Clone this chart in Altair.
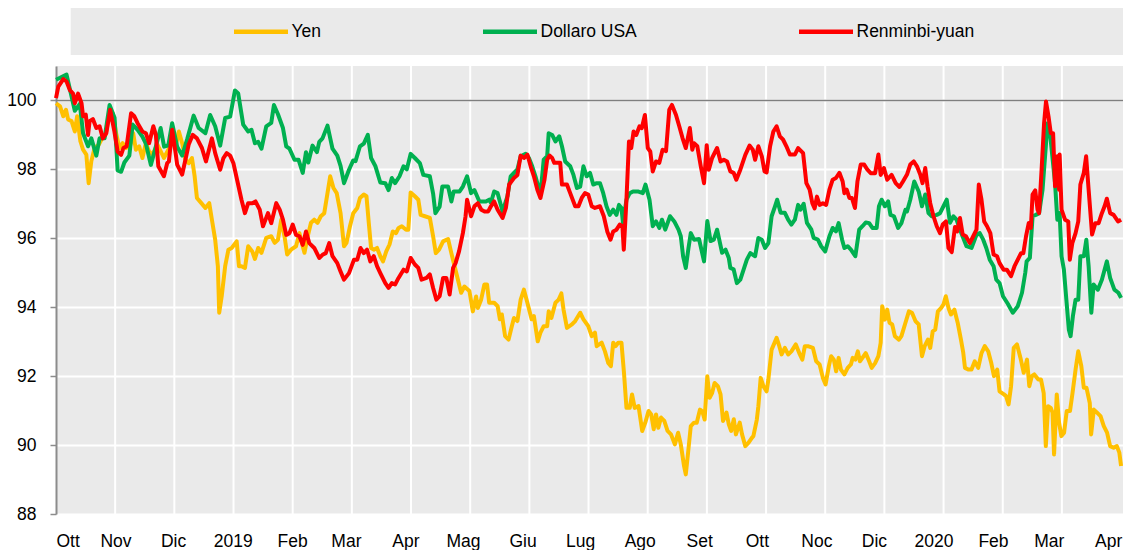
import json
import altair as alt
import pandas as pd

START = pd.Timestamp("2018-10-01")
SPAN_DAYS = 554.7  # visible range: 2018-10-01 .. 2020-04-08

series_names = ["Yen", "Dollaro USA", "Renminbi-yuan"]
series_colors = ["#FFC000", "#00B050", "#FF0000"]
tick_labels = ["Ott", "Nov", "Dic", "2019", "Feb", "Mar", "Apr", "Mag", "Giu", "Lug",
               "Ago", "Set", "Ott", "Noc", "Dic", "2020", "Feb", "Mar", "Apr"]
y_ticks = [88, 90, 92, 94, 96, 98, 100]

# (days since 2018-10-01, index value)
yen = [(0,99.92),(2.1,99.83),(3.8,99.54),(5.2,99.73),(6.3,99.45),(8.1,99.4),(9.8,99.1),(11.0,99.54),(12.7,98.82),(14.1,98.57),(15.8,98.43),(17.0,97.6),(18.4,98.24),(20.1,98.62),(22.3,98.72),(24.1,98.91),(25.8,99.0),(27.9,99.63),(29.6,99.63),(31.3,99.05),(33.0,98.62),(34.7,98.76),(36.5,98.62),(38.5,98.67),(40.2,99.05),(41.6,98.57),(43.3,98.67),(45.0,98.33),(46.8,98.76),(48.5,98.52),(50.2,98.43),(52.8,98.72),(54.5,98.53),(56.2,98.33),(58.5,98.57),(60.2,98.82),(62.3,98.67),(64.0,99.1),(65.7,98.76),(67.4,98.28),(69.1,98.18),(70.8,98.33),(72.2,97.8),(73.4,97.17),(75.7,97.02),(77.8,96.88),(79.8,97.02),(81.2,96.54),(82.9,95.96),(84.3,95.19),(85.0,93.84),(86.3,94.32),(88.1,95.19),(89.8,95.67),(91.5,95.72),(94.1,95.91),(95.3,95.19),(96.6,95.19),(98.4,95.14),(100.1,95.77),(102.2,95.62),(103.6,95.4),(105.3,95.72),(107.0,95.58),(109.5,96.01),(112.1,96.06),(113.9,95.87),(115.6,95.96),(117.3,96.54),(119.0,96.06),(120.4,95.53),(122.4,95.67),(125.0,95.77),(126.8,96.15),(128.5,95.77),(129.4,95.58),(131.1,96.06),(132.8,96.45),(134.5,96.54),(136.2,96.45),(137.9,96.64),(139.7,96.73),(141.4,97.31),(142.8,97.8),(144.5,97.46),(146.2,97.31),(148.2,96.73),(150.0,95.77),(151.3,95.87),(153.1,96.35),(154.8,96.73),(156.9,96.88),(158.3,97.17),(160.3,97.27),(161.7,97.22),(162.9,96.45),(164.1,95.72),(165.5,95.67),(167.2,95.72),(168.9,95.48),(170.3,95.33),(172.0,95.62),(173.7,95.82),(175.4,96.2),(177.1,96.15),(178.4,96.3),(180.1,96.35),(182.3,96.25),(183.5,96.25),(184.7,97.33),(186.9,97.22),(188.7,97.12),(189.9,96.68),(192.1,96.64),(194.7,96.59),(196.4,96.06),(197.8,95.57),(199.5,95.67),(201.6,95.91),(204.2,95.98),(205.9,95.57),(207.6,95.19),(211.0,94.42),(212.7,94.6),(215.3,94.47),(217.1,93.88),(218.8,94.31),(219.7,93.98),(221.4,94.22),(223.1,94.66),(224.5,94.66),(225.6,94.13),(228.2,94.13),(230.0,94.03),(231.2,93.65),(232.2,93.79),(233.9,93.16),(235.7,93.06),(237.4,93.45),(238.5,93.69),(240.3,93.6),(242.0,94.22),(243.7,94.51),(245.5,94.13),(247.7,93.65),(248.9,93.74),(250.9,93.01),(252.3,93.26),(254.0,93.45),(255.8,93.45),(256.6,93.88),(258.0,93.69),(260.1,94.13),(261.8,94.22),(263.2,94.4),(264.3,93.94),(266.1,93.4),(268.7,93.5),(270.4,93.6),(273.0,93.84),(274.7,93.65),(277.2,93.45),(279.0,93.16),(280.7,93.26),(281.6,92.87),(284.2,92.97),(285.9,92.72),(287.6,92.38),(289.0,92.29),(290.2,92.97),(291.4,92.87),(292.8,92.97),(294.5,92.97),(295.8,92.1),(297.1,91.08),(298.8,91.08),(300.0,91.47),(301.4,91.08),(303.4,91.13),(305.3,90.41),(306.9,90.65),(308.6,90.99),(310.0,90.89),(311.3,90.46),(312.5,90.89),(313.7,90.5),(315.1,90.8),(316.8,90.7),(318.5,90.41),(320.3,90.31),(322.3,90.02),(324.0,90.36),(325.4,90.02),(327.1,89.39),(328.0,89.15),(329.2,89.78),(330.6,90.55),(332.3,90.65),(333.7,90.65),(335.4,91.03),(336.6,90.98),(337.8,90.74),(339.2,92.0),(340.4,91.37),(341.7,91.51),(343.0,91.8),(344.7,91.71),(346.1,91.47),(347.4,90.7),(349.2,90.94),(350.4,90.6),(351.6,90.41),(353.0,90.75),(354.1,90.31),(356.1,90.65),(357.3,90.31),(359.0,89.97),(360.7,90.07),(362.4,90.21),(363.2,90.26),(365.0,90.74),(365.8,91.13),(367.0,91.95),(368.4,91.71),(370.1,91.56),(371.0,91.9),(372.7,92.77),(375.3,93.11),(376.7,92.87),(377.9,92.63),(379.6,92.82),(381.3,92.63),(383.0,92.72),(385.3,92.92),(387.4,92.63),(388.7,92.48),(390.0,92.87),(391.6,92.87),(394.2,92.82),(395.9,92.43),(397.7,92.34),(399.4,91.95),(400.8,91.76),(402.5,92.29),(403.7,92.58),(405.1,92.48),(406.3,92.14),(407.6,92.53),(408.8,92.19),(410.6,92.05),(412.3,92.24),(414.0,92.34),(414.9,92.53),(416.3,92.48),(417.6,92.72),(418.7,92.43),(420.0,92.53),(421.7,92.67),(423.5,92.43),(424.8,92.24),(426.6,92.38),(428.3,92.58),(429.5,92.97),(430.3,94.03),(431.7,93.64),(432.9,93.93),(434.1,93.55),(435.5,93.5),(436.9,93.16),(439.0,93.06),(440.3,93.16),(442.4,93.55),(444.2,93.88),(445.8,93.84),(447.6,93.6),(449.3,93.5),(451.0,92.58),(452.4,92.87),(454.1,93.06),(455.3,92.82),(456.6,93.3),(457.9,93.35),(459.3,93.88),(461.0,93.98),(462.2,94.08),(463.4,94.32),(464.8,93.98),(466.1,93.79),(467.9,93.93),(469.6,93.55),(471.3,93.06),(472.5,92.68),(473.4,92.24),(475.1,92.19),(476.8,92.19),(478.5,92.43),(480.3,92.24),(482.0,92.67),(483.7,92.87),(485.5,92.72),(487.1,92.38),(488.5,92.0),(490.2,92.19),(491.4,91.56),(493.7,91.47),(494.8,91.42),(496.1,91.18),(497.4,91.71),(498.8,92.82),(500.5,92.92),(502.3,92.53),(504.0,92.1),(505.7,92.48),(506.9,91.71),(508.2,92.0),(509.5,92.05),(511.6,91.9),(513.0,91.9),(514.4,91.51),(515.5,89.97),(516.7,91.13),(518.1,91.08),(519.0,90.94),(519.8,89.73),(521.2,91.47),(522.4,90.65),(523.6,90.26),(525.0,90.36),(526.4,90.99),(528.1,90.99),(529.3,91.47),(531.0,92.19),(532.4,92.72),(534.0,92.29),(535.3,91.66),(536.7,91.66),(538.4,91.22),(539.1,90.31),(540.5,91.03),(542.2,90.94),(544.0,90.84),(545.7,90.55),(547.4,90.36),(549.0,89.97),(550.8,89.92),(552.5,89.97),(553.8,89.78),(554.7,89.39)]

usd = [(0,100.6),(5.5,100.75),(9.8,99.7),(12.4,99.9),(14.1,99.05),(16.7,98.67),(18.4,98.9),(21.0,98.4),(22.7,98.9),(25.3,98.9),(27.9,99.87),(30.5,99.5),(32.1,97.97),(33.9,97.93),(35.6,98.2),(38.2,98.4),(39.9,99.3),(42.5,99.15),(45.0,98.95),(46.8,98.75),(49.4,98.13),(52.0,98.66),(54.5,99.2),(56.3,98.66),(58.5,98.7),(60.5,99.34),(63.1,98.66),(65.7,98.4),(68.3,98.87),(71.7,99.56),(74.3,99.2),(77.8,99.05),(80.3,99.58),(82.9,99.25),(85.5,98.69),(88.1,99.49),(90.7,99.53),(93.2,100.29),(94.9,100.2),(97.5,99.3),(100.1,99.1),(101.8,99.15),(103.6,98.76),(105.3,98.8),(107.0,98.6),(109.5,99.25),(112.1,99.35),(113.5,99.87),(115.6,99.6),(118.2,99.2),(119.9,98.67),(121.6,98.6),(124.2,98.28),(126.3,98.28),(128.5,97.9),(130.2,98.5),(131.4,98.2),(133.6,98.69),(135.9,98.5),(137.1,98.8),(138.8,98.9),(141.4,99.27),(144.0,98.6),(146.5,98.4),(148.2,98.1),(150.0,97.6),(152.6,97.99),(154.8,98.26),(156.0,98.24),(158.3,98.67),(160.3,98.75),(162.4,99.0),(164.1,98.33),(166.3,98.1),(168.9,97.62),(171.5,97.6),(173.2,97.4),(174.9,97.75),(176.6,97.6),(178.9,97.8),(181.0,98.09),(182.7,98.0),(184.7,98.45),(186.9,98.33),(189.5,98.18),(191.3,97.84),(194.7,97.8),(196.4,97.3),(197.6,96.73),(199.8,96.92),(201.2,97.5),(204.2,97.5),(205.9,97.07),(207.1,97.36),(210.2,97.36),(211.9,97.5),(214.1,97.8),(216.2,97.31),(217.9,97.4),(220.5,97.07),(223.9,97.07),(225.6,97.12),(226.5,97.03),(228.2,97.36),(230.0,97.31),(232.6,96.78),(235.1,97.22),(236.8,97.8),(238.5,97.9),(240.3,98.0),(242.0,98.38),(244.6,98.45),(246.3,98.33),(248.0,98.09),(249.7,97.8),(252.3,97.27),(254.0,98.28),(255.8,98.38),(256.6,99.05),(258.4,99.0),(260.1,98.81),(262.1,98.96),(263.5,98.67),(265.2,98.23),(267.8,98.09),(269.5,97.84),(271.3,97.46),(273.0,97.5),(274.7,98.09),(276.4,97.8),(278.1,97.9),(279.8,97.56),(281.6,97.6),(283.3,97.6),(285.0,97.31),(286.7,96.93),(288.4,96.68),(290.2,96.83),(291.9,96.68),(293.2,96.97),(294.5,96.88),(295.3,96.44),(297.1,97.12),(298.8,97.31),(300.5,97.36),(303.0,97.36),(305.6,97.31),(307.0,97.56),(309.1,97.12),(310.8,96.35),(312.5,96.49),(314.2,96.3),(315.6,96.54),(317.3,96.25),(319.8,96.64),(322.0,96.49),(324.2,96.25),(325.4,96.06),(326.6,95.48),(328.0,95.14),(329.4,95.72),(330.6,96.15),(332.3,95.96),(334.9,95.98),(337.5,95.33),(339.2,96.5),(340.9,95.92),(342.6,95.96),(344.3,96.25),(346.9,95.58),(348.7,95.67),(350.4,95.43),(351.2,95.14),(352.9,95.1),(354.6,94.7),(356.4,94.8),(358.1,95.09),(359.8,95.38),(361.6,95.57),(364.1,95.48),(365.8,96.01),(367.6,95.96),(369.3,95.72),(371.0,95.86),(372.7,96.64),(374.5,96.93),(375.6,97.12),(377.4,96.74),(379.6,96.74),(381.3,96.54),(383.0,96.4),(384.8,96.54),(386.5,96.97),(387.7,96.83),(389.4,97.0),(391.1,96.45),(393.4,96.25),(394.6,96.01),(396.8,95.96),(398.5,95.77),(400.6,95.62),(402.8,96.06),(404.5,96.3),(406.2,96.2),(407.6,96.44),(409.4,95.96),(410.6,95.72),(412.3,95.77),(414.0,95.67),(416.3,95.48),(418.3,96.25),(420.0,96.35),(421.7,96.46),(423.5,96.44),(425.2,96.3),(427.4,96.3),(428.6,96.93),(430.0,97.12),(431.7,96.93),(433.4,97.07),(434.6,96.68),(436.4,96.64),(438.6,96.3),(440.3,96.44),(442.4,96.83),(443.2,96.78),(444.9,97.12),(447.0,97.65),(449.3,97.36),(451.0,96.93),(452.7,97.27),(454.4,96.73),(456.1,96.64),(458.7,96.68),(460.4,96.73),(462.2,96.93),(463.9,97.12),(465.6,96.45),(467.4,96.64),(469.0,96.54),(470.8,96.25),(472.5,96.01),(474.2,95.77),(476.8,95.72),(479.4,96.1),(481.1,96.15),(482.9,95.96),(484.5,95.72),(486.3,95.38),(488.3,95.19),(489.7,94.8),(491.4,94.7),(493.2,94.32),(495.7,94.1),(498.3,93.84),(500.9,94.03),(503.1,94.42),(504.8,95.0),(505.5,95.33),(507.2,95.43),(508.6,96.64),(510.3,96.68),(512.0,96.73),(513.8,97.41),(515.5,98.67),(516.4,99.34),(517.5,99.15),(518.9,98.38),(520.3,97.6),(521.5,96.54),(522.7,96.73),(523.7,95.48),(524.9,95.1),(526.2,94.22),(527.5,93.35),(528.4,93.16),(529.6,93.74),(531.0,94.22),(532.4,94.22),(533.5,95.48),(535.3,95.48),(536.6,95.96),(537.8,95.19),(539.2,93.84),(540.4,94.66),(542.6,94.51),(544.7,94.8),(547.3,95.33),(549.0,94.85),(551.2,94.51),(553.3,94.42),(554.7,94.27)]

rmb = [(0,100.07),(1.2,100.4),(3.8,100.62),(5.5,100.55),(7.2,100.3),(8.9,100.2),(9.8,99.92),(11.5,100.2),(13.3,99.92),(14.1,99.54),(15.5,99.59),(16.7,99.0),(17.5,99.4),(19.2,99.46),(21.0,99.2),(22.7,99.25),(24.4,98.9),(26.2,99.05),(28.2,99.73),(30.4,99.1),(32.1,98.52),(33.9,98.42),(35.1,98.62),(36.8,98.67),(39.1,99.63),(40.8,99.54),(42.5,99.34),(45.0,99.1),(46.8,99.05),(48.5,98.76),(50.7,99.25),(52.0,99.0),(53.3,98.09),(56.2,97.8),(57.9,98.18),(58.8,98.23),(60.5,99.15),(62.3,98.47),(63.1,98.14),(65.7,97.85),(67.4,98.28),(69.1,98.72),(71.2,99.0),(73.4,98.9),(76.0,98.62),(78.1,98.23),(81.2,98.9),(82.9,98.47),(85.5,97.99),(87.2,98.33),(88.9,98.47),(90.7,98.4),(92.4,98.18),(94.1,97.75),(96.6,97.12),(98.4,96.73),(100.1,97.02),(102.2,97.02),(103.9,97.07),(106.1,96.83),(107.8,96.35),(110.4,96.73),(112.1,96.44),(114.7,97.02),(116.5,96.83),(118.2,96.54),(119.9,96.1),(121.6,96.15),(123.3,96.4),(125.0,96.1),(126.8,96.06),(128.5,95.81),(130.2,96.2),(131.9,95.86),(134.5,95.72),(137.1,95.43),(138.8,95.52),(140.5,95.57),(142.3,95.86),(144.0,95.48),(146.5,95.28),(148.2,95.04),(150.0,94.8),(152.6,94.99),(155.2,95.38),(156.9,95.38),(158.6,95.72),(160.3,95.57),(162.0,95.67),(163.7,95.33),(165.5,95.48),(167.2,95.19),(168.9,94.99),(171.5,94.7),(173.2,94.56),(174.9,94.7),(176.6,94.66),(178.4,94.85),(181.0,95.09),(182.7,95.04),(184.7,95.43),(186.9,95.24),(188.7,95.14),(190.4,94.8),(193.0,94.85),(194.7,94.95),(196.4,94.56),(198.1,94.22),(199.8,94.32),(201.6,94.85),(203.3,94.85),(205.0,94.37),(206.8,95.14),(208.1,95.28),(209.9,95.62),(211.9,96.15),(213.3,96.64),(214.1,97.12),(216.2,96.64),(217.9,96.93),(219.7,97.02),(221.5,96.83),(223.2,96.78),(225.1,96.78),(226.5,96.93),(228.2,97.07),(230.0,96.83),(232.6,96.59),(234.3,96.88),(236.0,97.56),(238.5,97.75),(240.3,97.84),(242.0,98.4),(243.7,98.33),(245.5,98.43),(247.2,98.09),(248.9,97.8),(250.7,97.41),(252.3,97.17),(254.4,97.7),(255.8,98.28),(257.0,98.4),(258.4,98.33),(259.5,98.19),(262.6,98.19),(263.5,97.56),(266.1,97.56),(267.8,97.31),(270.4,96.93),(272.1,96.93),(273.8,97.17),(275.5,97.31),(277.2,97.27),(279.0,96.93),(280.7,96.88),(283.3,96.93),(285.3,96.64),(287.1,96.2),(288.8,95.96),(290.2,96.2),(291.9,96.25),(293.6,96.4),(295.0,96.35),(295.7,95.67),(297.1,97.12),(298.4,98.81),(299.6,98.62),(300.8,99.1),(302.2,99.0),(303.9,99.25),(305.1,99.2),(306.7,99.58),(308.2,98.62),(309.5,98.52),(310.8,97.94),(312.5,98.23),(314.2,98.19),(315.9,98.57),(317.7,98.53),(319.4,99.73),(320.8,99.87),(322.9,99.58),(324.6,99.25),(326.3,98.91),(328.0,98.62),(330.1,99.2),(331.4,98.57),(332.3,98.76),(334.0,98.67),(335.8,98.09),(337.5,97.6),(338.9,98.7),(340.0,97.99),(341.7,98.33),(344.3,98.62),(346.1,98.23),(347.8,98.28),(349.5,98.23),(351.2,97.94),(352.9,97.9),(354.3,97.7),(356.4,97.99),(359.0,98.42),(361.2,98.69),(362.9,98.57),(364.1,98.28),(365.8,98.67),(367.6,98.38),(369.0,97.94),(370.1,97.91),(371.9,98.67),(373.6,99.1),(375.3,99.25),(377.0,98.96),(378.7,98.86),(380.4,98.67),(382.2,98.43),(384.8,98.43),(386.5,98.62),(389.1,98.47),(390.8,97.6),(392.5,97.41),(393.9,97.02),(395.1,96.87),(396.3,97.21),(397.7,96.97),(399.4,97.02),(401.1,96.97),(402.8,97.41),(404.5,97.7),(406.2,97.75),(408.0,97.9),(409.7,97.65),(410.6,97.31),(411.8,97.41),(413.2,97.17),(414.5,97.17),(416.1,96.88),(417.4,97.65),(419.1,98.14),(420.9,98.14),(422.6,97.99),(424.3,97.89),(426.6,97.89),(428.3,98.43),(429.5,97.84),(431.2,98.04),(432.9,97.7),(435.2,97.84),(437.3,97.6),(439.3,97.49),(441.1,97.65),(443.2,97.85),(444.9,98.14),(446.7,98.23),(448.4,98.09),(450.1,97.85),(451.3,97.6),(452.7,98.04),(453.9,97.51),(455.3,97.02),(457.0,96.64),(458.7,96.35),(460.4,96.15),(461.8,96.4),(463.5,96.49),(464.8,95.72),(466.5,95.6),(468.2,96.33),(469.4,96.2),(470.8,96.59),(472.2,96.11),(473.9,96.06),(475.9,95.86),(477.7,96.06),(479.4,96.25),(480.6,97.56),(482.0,97.12),(483.4,96.49),(484.9,96.35),(486.6,96.15),(488.3,95.53),(490.1,95.48),(491.4,95.28),(493.5,95.09),(495.2,95.09),(497.4,94.9),(499.2,95.19),(500.9,95.38),(502.6,95.57),(503.8,95.57),(505.2,96.06),(506.6,96.44),(507.7,96.3),(508.6,97.27),(510.0,97.39),(511.2,96.83),(512.0,96.73),(513.4,98.09),(514.6,99.34),(515.6,99.97),(516.9,99.54),(518.1,99.05),(519.3,99.05),(520.3,97.51),(521.5,98.38),(522.4,97.41),(522.7,98.43),(523.7,96.83),(525.5,96.54),(527.2,96.49),(528.0,95.38),(529.3,95.86),(531.0,96.15),(532.4,96.49),(533.5,97.56),(535.3,97.9),(536.5,98.38),(537.8,97.41),(539.6,96.11),(541.3,96.44),(543.0,96.44),(544.7,96.73),(546.1,96.93),(547.3,97.15),(549.0,96.73),(550.8,96.68),(553.1,96.49),(554.7,96.54)]

FONT = "Liberation Sans, Arial, sans-serif"
FS = 17.5
VIEW_W = 1067
VIEW_H = 448


def iso(ts):
    return ts.strftime("%Y-%m-%dT%H:%M:%S")


rows = []
for name, pts in zip(series_names, [yen, usd, rmb]):
    for d, v in pts:
        rows.append({"serie": name, "data": iso(START + pd.Timedelta(days=d)), "valore": v})
df = pd.DataFrame(rows)

grid_df = pd.DataFrame({"data": [iso(START + pd.Timedelta(days=SPAN_DAYS * k / 18)) for k in range(1, 18)]})
ref_df = pd.DataFrame({"valore": [100]})

month_vals = [alt.DateTime(year=2018 + (9 + i) // 12, month=(9 + i) % 12 + 1, date=1)
              for i in range(len(tick_labels))]
label_expr = f"{json.dumps(tick_labels)}[(year(datum.value)-2018)*12 + month(datum.value) - 9]"

x_enc = alt.X(
    "data:T",
    scale=alt.Scale(domain=[alt.DateTime(year=2018, month=10, date=1),
                            alt.DateTime(year=2020, month=4, date=8, hours=16, minutes=48)]),
    axis=alt.Axis(values=month_vals, labelExpr=label_expr, title=None, grid=False,
                  ticks=False, domain=False, labelFlush=1, labelPadding=18,
                  labelFontSize=FS, labelFont=FONT, labelColor="#000000"),
)
y_enc = alt.Y(
    "valore:Q",
    scale=alt.Scale(domain=[88, 101], nice=False, zero=False),
    axis=alt.Axis(values=y_ticks, title=None, grid=True, gridColor="#FFFFFF", gridWidth=2,
                  domainColor="#8C8C8C", domainWidth=2, tickColor="#8C8C8C", tickSize=6,
                  tickWidth=1.5, labelPadding=14, labelFontSize=FS, labelFont=FONT,
                  labelColor="#000000"),
)

legend_box = alt.Chart(alt.Data(values=[{}])).mark_rect(color="#EAEAEA").encode(
    x=alt.value(14.7), x2=alt.value(VIEW_W), y=alt.value(-61), y2=alt.value(-11)
)

grid = alt.Chart(grid_df).mark_rule(color="#FFFFFF", strokeWidth=2).encode(x=x_enc)

ref = alt.Chart(ref_df).mark_rule(color="#7F7F7F", strokeWidth=1.5).encode(y=y_enc)

lines = alt.Chart(df).mark_line(strokeWidth=4, strokeJoin="round").encode(
    x=x_enc,
    y=y_enc,
    color=alt.Color(
        "serie:N",
        scale=alt.Scale(domain=series_names, range=series_colors),
        legend=alt.Legend(orient="none", legendX=175.5, legendY=-64, direction="horizontal",
                          title=None, symbolType="stroke", symbolSize=2916,
                          symbolStrokeWidth=4.5, labelFontSize=FS, labelFont=FONT,
                          labelColor="#000000", columnPadding=152, padding=0, labelOffset=1),
    ),
)

chart = alt.layer(legend_box, grid, ref, lines).properties(
    width=VIEW_W,
    height=VIEW_H,
    padding={"left": 48, "top": 58, "right": 0, "bottom": 36},
    autosize=alt.AutoSizeParams(type="none"),
    background="#FFFFFF",
).configure_view(fill="#EAEAEA", strokeWidth=0)

chart.save("out.html", embed_options={"renderer": "svg", "actions": False})
